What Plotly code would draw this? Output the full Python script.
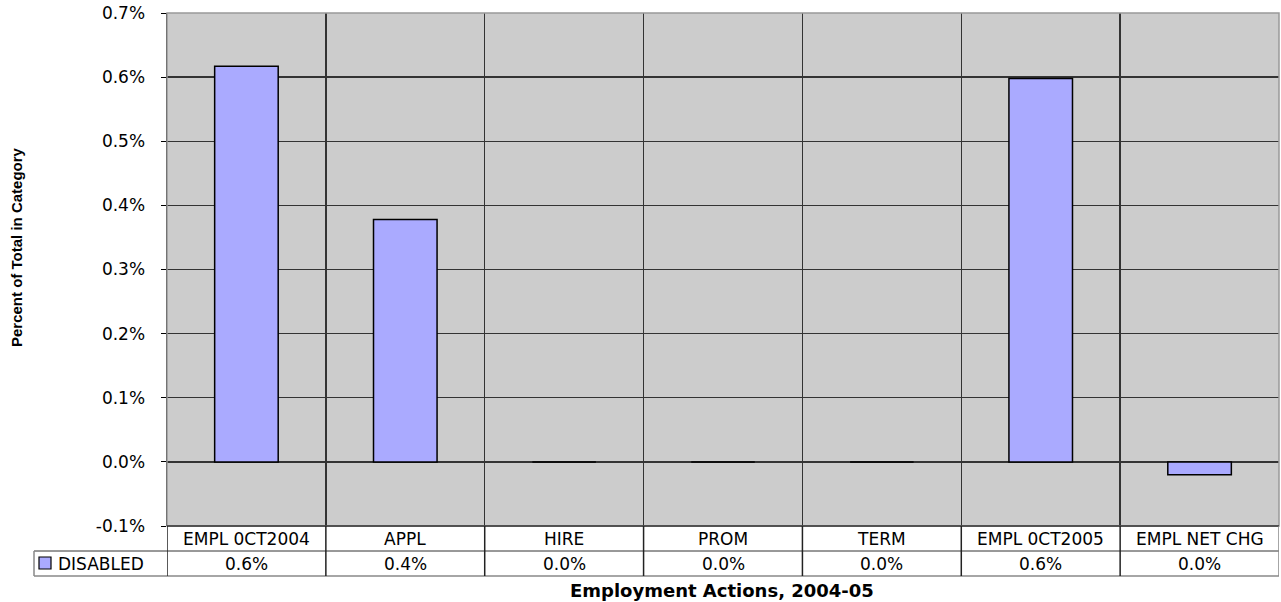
import plotly.graph_objects as go

categories = ["EMPL 0CT2004", "APPL", "HIRE", "PROM", "TERM", "EMPL 0CT2005", "EMPL NET CHG"]
disabled = [0.00617, 0.00378, 0.0, 0.0, 0.0, 0.00598, -0.00020]
series_name = "DISABLED"
y_tick_vals = [-0.001, 0.0, 0.001, 0.002, 0.003, 0.004, 0.005, 0.006, 0.007]
y_tick_text = ["-0.1%", "0.0%", "0.1%", "0.2%", "0.3%", "0.4%", "0.5%", "0.6%", "0.7%"]
y_title = "Percent of Total in Category"
x_title = "Employment Actions, 2004-05"

W, H = 1281, 602
L, R, T, B = 167, 2, 13, 602 - 526
pw, ph = W - L - R, H - T - B

def py(pix):  # reference pixel y -> paper y
    return (526 - pix) / ph

def px(pix):  # reference pixel x -> paper x
    return (pix - 167) / pw

BAR = "#aaaaff"
GRID = "#333333"
FONT = "DejaVu Sans"
FS = 17

fig = go.Figure()
fig.add_trace(go.Bar(
    x=categories, y=disabled, name=series_name,
    marker=dict(color=BAR, line=dict(color="black", width=1.5)),
    hoverinfo="skip",
))

shapes = []
annotations = []

# plot frame (top/right gray)
shapes.append(dict(type="rect", xref="paper", yref="paper", x0=0, x1=1, y0=0, y1=1,
                   line=dict(color="#999999", width=1.5), layer="above"))

# data table lines
row1_bot = py(551)
row2_bot = py(576)
shapes.append(dict(type="line", xref="paper", yref="paper", x0=0, x1=1, y0=0, y1=0,
                   line=dict(color="#333333", width=1.5)))
shapes.append(dict(type="line", xref="paper", yref="paper", x0=px(34), x1=1, y0=row1_bot, y1=row1_bot,
                   line=dict(color="#333333", width=1)))
shapes.append(dict(type="line", xref="paper", yref="paper", x0=px(34), x1=1, y0=row2_bot, y1=row2_bot,
                   line=dict(color="#888888", width=1.5)))
shapes.append(dict(type="line", xref="paper", yref="paper", x0=px(34), x1=px(34), y0=row1_bot, y1=row2_bot,
                   line=dict(color="#888888", width=1.5)))
for i in range(len(categories) + 1):
    shapes.append(dict(type="line", xref="x", yref="paper", x0=i - 0.5, x1=i - 0.5, y0=0, y1=row2_bot,
                       line=dict(color="#222222" if i < len(categories) else "#888888", width=1.5)))

for i, (c, v) in enumerate(zip(categories, disabled)):
    annotations.append(dict(x=i, y=(0 + row1_bot) / 2, xref="x", yref="paper", text=c, showarrow=False,
                            font=dict(family=FONT, size=FS, color="black"), xanchor="center", yanchor="middle"))
    s = f"{v*100:.1f}%"
    if s == "-0.0%":
        s = "0.0%"
    annotations.append(dict(x=i, y=(row1_bot + row2_bot) / 2, xref="x", yref="paper", text=s, showarrow=False,
                            font=dict(family=FONT, size=FS, color="black"), xanchor="center", yanchor="middle"))

# legend key
shapes.append(dict(type="rect", xref="paper", yref="paper", x0=px(39), x1=px(51), y0=py(569), y1=py(557),
                   fillcolor=BAR, line=dict(color="black", width=1.2)))
annotations.append(dict(x=px(56), y=(row1_bot + row2_bot) / 2, xref="paper", yref="paper", text=series_name,
                        showarrow=False, font=dict(family=FONT, size=FS, color="black"),
                        xanchor="left", yanchor="middle"))

# axis titles
annotations.append(dict(x=px(16), y=py(247), xref="paper", yref="paper", text=f"<b>{y_title}</b>",
                        textangle=-90, showarrow=False,
                        font=dict(family="Liberation Sans", size=15, color="black"),
                        xanchor="center", yanchor="middle"))
annotations.append(dict(x=px(722), y=py(590), xref="paper", yref="paper", text=f"<b>{x_title}</b>",
                        showarrow=False, font=dict(family=FONT, size=18, color="black"),
                        xanchor="center", yanchor="middle"))

fig.update_layout(
    width=W, height=H,
    margin=dict(l=L, r=R, t=T, b=B, pad=0, autoexpand=False),
    paper_bgcolor="white", plot_bgcolor="#cccccc",
    showlegend=False,
    bargap=0.6,
    hovermode=False,
    shapes=shapes, annotations=annotations,
    xaxis=dict(type="category", range=[-0.5, len(categories) - 0.5], tickson="boundaries",
               showgrid=True, gridcolor=GRID, gridwidth=1.3, showticklabels=False, ticks="",
               showline=False, zeroline=False, fixedrange=True, automargin=False),
    yaxis=dict(range=[y_tick_vals[0], y_tick_vals[-1]], tickmode="array",
               tickvals=y_tick_vals, ticktext=y_tick_text, ticklabeloverflow="allow", automargin=False,
               showgrid=True, gridcolor=GRID, gridwidth=1.3, zeroline=True, zerolinecolor=GRID,
               zerolinewidth=1.3, showline=True, linecolor="black", linewidth=1.5,
               ticks="outside", ticklen=5, tickcolor="black", ticklabelstandoff=12,
               tickfont=dict(family=FONT, size=FS, color="black"), fixedrange=True),
    font=dict(family=FONT, color="black"),
)

fig.write_html("out.html",
               config={"displayModeBar": False, "staticPlot": True},
               post_script="document.body.style.margin='0';document.body.style.overflow='hidden';")
